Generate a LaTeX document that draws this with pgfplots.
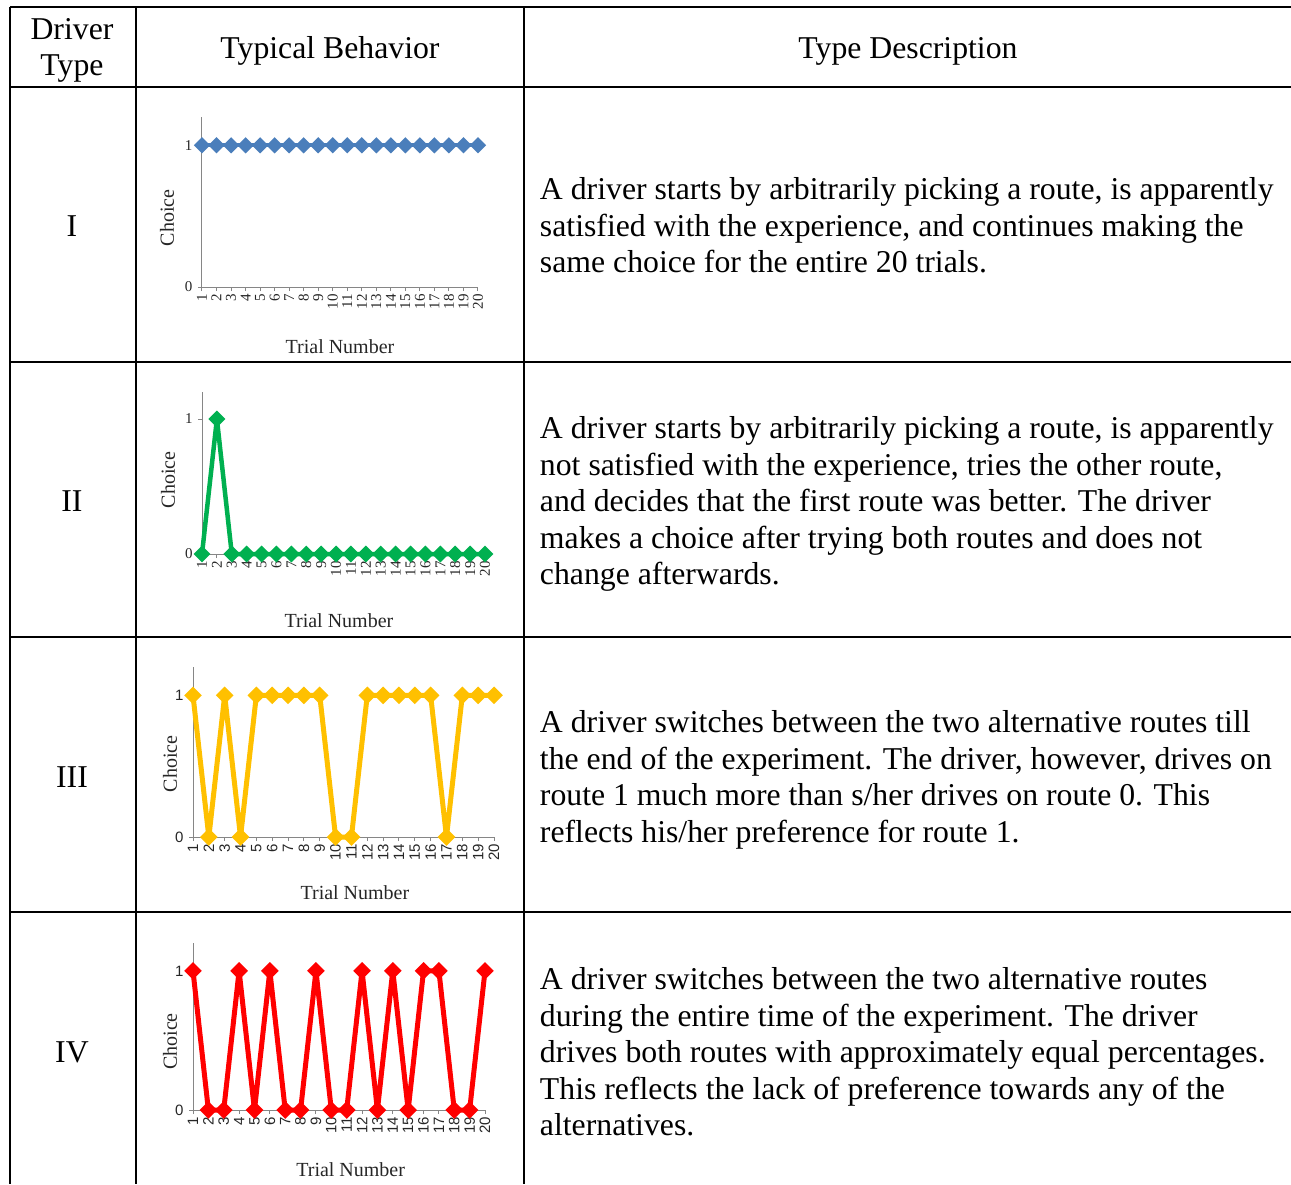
\documentclass[border=0pt]{standalone}
\usepackage{fontspec}
\setmainfont{Liberation Serif}
\newfontfamily\sansfont{Liberation Sans}
\usepackage{pgfplots}
\pgfplotsset{compat=1.18}

\definecolor{c1}{HTML}{4A7EBB}
\definecolor{c2}{HTML}{00B050}
\definecolor{c3}{HTML}{FFC000}
\definecolor{c4}{HTML}{FF0000}
\definecolor{axgray}{HTML}{868686}

\pgfplotsset{
  choice/.style={
    scale only axis, clip=false,
    axis lines*=left,
    axis line style={axgray, line width=0.4pt},
    xmin=1, xmax=20, ymin=0, ymax=1.2,
    xtick={1,...,20}, ytick={0,1},
    tick style={axgray, line width=0.4pt},
    major tick length=1.6pt, tick align=outside,
    /pgf/number format/assume math mode=true,
    ticklabel style={font=\fontsize{6}{7}\selectfont, text=black!85},
    xticklabel style={rotate=90, anchor=east, inner sep=1pt},
    yticklabel style={inner sep=2pt},
    label style={font=\fontsize{8}{9}\selectfont, text=black!85},
    xlabel={Trial Number}, ylabel={Choice},
  },
  dia/.style={line join=round, mark=square*, mark size=1.5pt,
    mark options={rotate=45, solid, line join=miter}},
}

\newcommand{\body}{\fontsize{12.7}{14.6}\selectfont}

\begin{document}
\begin{tikzpicture}
\useasboundingbox (0,0) rectangle (516.4pt,-473.6pt);

\begin{scope}[x=0.4pt, y=-0.4pt, line width=0.8pt]
  % table rules
  \foreach \yy in {7,87,362,637,912} \draw (10,\yy) -- (1291,\yy);
  \foreach \xx in {10,136,524} \draw (\xx,7) -- (\xx,1184);

  % header
  \node[anchor=base, inner sep=0, font=\body] at (72,40) {Driver};
  \node[anchor=base, inner sep=0, font=\body] at (72,76) {Type};
  \node[anchor=base, inner sep=0, font=\body] at (330,59) {Typical Behavior};
  \node[anchor=base, inner sep=0, font=\body] at (908,59) {Type Description};

  % driver types
  \node[anchor=base, inner sep=0, font=\body] at (72,237) {I};
  \node[anchor=base, inner sep=0, font=\body] at (72,512) {II};
  \node[anchor=base, inner sep=0, font=\body] at (72,788) {III};
  \node[anchor=base, inner sep=0, font=\body] at (72,1063) {IV};

  % descriptions
  \node[anchor=base west, inner sep=0] at (539,200) {\body\parbox[t]{320pt}{\raggedright
    A driver starts by arbitrarily picking a route, is apparently\\
    satisfied with the experience, and continues making the\\
    same choice for the entire 20 trials.}};
  \node[anchor=base west, inner sep=0] at (539,439) {\body\parbox[t]{320pt}{\raggedright
    A driver starts by arbitrarily picking a route, is apparently\\
    not satisfied with the experience, tries the other route,\\
    and decides that the first route was better. The driver\\
    makes a choice after trying both routes and does not\\
    change afterwards.}};
  \node[anchor=base west, inner sep=0] at (539,733) {\body\parbox[t]{320pt}{\raggedright
    A driver switches between the two alternative routes till\\
    the end of the experiment. The driver, however, drives on\\
    route 1 much more than s/her drives on route 0. This\\
    reflects his/her preference for route 1.}};
  \node[anchor=base west, inner sep=0] at (539,990) {\body\parbox[t]{320pt}{\raggedright
    A driver switches between the two alternative routes\\
    during the entire time of the experiment. The driver\\
    drives both routes with approximately equal percentages.\\
    This reflects the lack of preference towards any of the\\
    alternatives.}};
\end{scope}

% Type I
\begin{axis}[choice, at={(80.8pt,-114.8pt)}, anchor=south west,
  width=110.4pt, height=68pt,
  xlabel style={at={(axis description cs:0.5,-0.35)}, anchor=center},
  ylabel style={at={(axis description cs:-0.127,0.406)}, anchor=center}]
\addplot[c1, line width=1.6pt, dia] coordinates {
  (1,1) (2,1) (3,1) (4,1) (5,1) (6,1) (7,1) (8,1) (9,1) (10,1)
  (11,1) (12,1) (13,1) (14,1) (15,1) (16,1) (17,1) (18,1) (19,1) (20,1)};
\end{axis}

% Type II
\begin{axis}[choice, at={(80.8pt,-221.6pt)}, anchor=south west,
  width=113.2pt, height=64.8pt,
  xlabel style={at={(axis description cs:0.484,-0.41)}, anchor=center},
  ylabel style={at={(axis description cs:-0.12,0.457)}, anchor=center}]
\addplot[c2, line width=1.8pt, dia] coordinates {
  (1,0) (2,1) (3,0) (4,0) (5,0) (6,0) (7,0) (8,0) (9,0) (10,0)
  (11,0) (12,0) (13,0) (14,0) (15,0) (16,0) (17,0) (18,0) (19,0) (20,0)};
\end{axis}

% Type III
\begin{axis}[choice, at={(77.2pt,-334.8pt)}, anchor=south west,
  width=120.4pt, height=68pt,
  ticklabel style={font=\sansfont\fontsize{6}{7}\selectfont},
  xlabel style={at={(axis description cs:0.538,-0.33)}, anchor=center},
  ylabel style={at={(axis description cs:-0.076,0.43)}, anchor=center}]
\addplot[c3, line width=2pt, dia] coordinates {
  (1,1) (2,0) (3,1) (4,0) (5,1) (6,1) (7,1) (8,1) (9,1) (10,0)
  (11,0) (12,1) (13,1) (14,1) (15,1) (16,1) (17,0) (18,1) (19,1) (20,1)};
\end{axis}

% Type IV
\begin{axis}[choice, at={(77.2pt,-444pt)}, anchor=south west,
  width=116.8pt, height=66.8pt,
  ticklabel style={font=\sansfont\fontsize{6}{7}\selectfont},
  xlabel style={at={(axis description cs:0.54,-0.36)}, anchor=center},
  ylabel style={at={(axis description cs:-0.079,0.41)}, anchor=center}]
\addplot[c4, line width=2pt, dia] coordinates {
  (1,1) (2,0) (3,0) (4,1) (5,0) (6,1) (7,0) (8,0) (9,1) (10,0)
  (11,0) (12,1) (13,0) (14,1) (15,0) (16,1) (17,1) (18,0) (19,0) (20,1)};
\end{axis}
\end{tikzpicture}
\end{document}
